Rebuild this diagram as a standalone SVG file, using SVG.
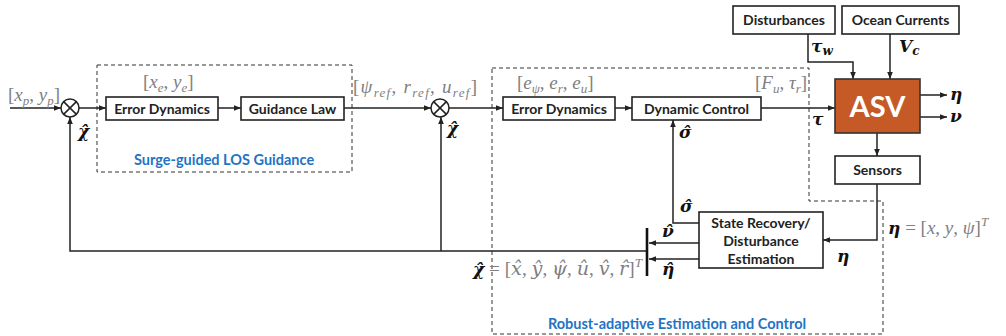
<svg xmlns="http://www.w3.org/2000/svg" width="1006" height="336" viewBox="0 0 1006 336">
<defs>
<marker id="ah" viewBox="0 0 10 10" refX="10" refY="5" markerWidth="7" markerHeight="7" markerUnits="userSpaceOnUse" orient="auto">
<path d="M0,1 L10,5 L0,9 Z" fill="#222"/>
</marker>
<style>
.box{fill:#fff;stroke:#222;stroke-width:1.6}
.lbl{font-family:Lato,"Liberation Sans",sans-serif;font-weight:bold;font-size:14px;fill:#222;text-anchor:middle}
.ln{fill:none;stroke:#222;stroke-width:1.5}
.dash{fill:none;stroke:#333;stroke-width:1;stroke-dasharray:4,3}
.blue{font-family:Lato,"Liberation Sans",sans-serif;font-weight:bold;font-size:14.5px;fill:#1f74c4;text-anchor:middle}
.m{font-family:"Liberation Serif",serif;font-size:19px;fill:#808080}
.i{font-style:italic}
.s{font-size:13px;font-style:italic}
.b{font-family:"DejaVu Serif",serif;font-weight:bold;font-style:italic;font-size:17px;fill:#111}
.h{font-family:"DejaVu Serif",serif;font-style:italic}
</style>
</defs>

<g id="regions">
<rect class="dash" x="97" y="65" width="255" height="107"/>
<path class="dash" d="M492,68 H809 V201 H883 V334 H492 Z"/>
<text class="blue" x="224" y="165">Surge-guided LOS Guidance</text>
<text class="blue" x="677" y="329">Robust-adaptive Estimation and Control</text>
</g>

<g id="connectors">
<line class="ln" x1="10" y1="108" x2="61" y2="108" marker-end="url(#ah)"/>
<line class="ln" x1="79" y1="108" x2="106" y2="108" marker-end="url(#ah)"/>
<line class="ln" x1="218" y1="108" x2="241" y2="108" marker-end="url(#ah)"/>
<line class="ln" x1="344" y1="108" x2="431" y2="108" marker-end="url(#ah)"/>
<line class="ln" x1="449" y1="108" x2="503" y2="108" marker-end="url(#ah)"/>
<line class="ln" x1="615" y1="108" x2="632" y2="108" marker-end="url(#ah)"/>
<line class="ln" x1="761" y1="108" x2="835" y2="108" marker-end="url(#ah)"/>
<polyline class="ln" points="647,251 70,251 70,117" marker-end="url(#ah)"/>
<line class="ln" x1="441" y1="251" x2="441" y2="117" marker-end="url(#ah)"/>
<polyline class="ln" points="699,223 673,223 673,120" marker-end="url(#ah)"/>
<line class="ln" x1="920" y1="95" x2="947" y2="95" marker-end="url(#ah)"/>
<line class="ln" x1="920" y1="117" x2="947" y2="117" marker-end="url(#ah)"/>
<line class="ln" x1="877" y1="133" x2="877" y2="156" marker-end="url(#ah)"/>
<polyline class="ln" points="877,184 877,240 823,240" marker-end="url(#ah)"/>
<polyline class="ln" points="808,34 808,62 853,62 853,79" marker-end="url(#ah)"/>
<line class="ln" x1="890" y1="34" x2="890" y2="79" marker-end="url(#ah)"/>
<line class="ln" x1="699" y1="243" x2="649" y2="243" marker-end="url(#ah)"/>
<line class="ln" x1="699" y1="259" x2="649" y2="259" marker-end="url(#ah)"/>
<line x1="647" y1="228" x2="647" y2="276" stroke="#111" stroke-width="2.6"/>
</g>

<g id="sum1">
<circle cx="70" cy="108" r="9" fill="#fff" stroke="#222" stroke-width="1.5"/>
<path d="M63.6,101.6 L76.4,114.4 M76.4,101.6 L63.6,114.4" stroke="#222" stroke-width="1.5"/>
</g>
<g id="sum2">
<circle cx="440" cy="108" r="9" fill="#fff" stroke="#222" stroke-width="1.5"/>
<path d="M433.6,101.6 L446.4,114.4 M446.4,101.6 L433.6,114.4" stroke="#222" stroke-width="1.5"/>
</g>

<g id="err1"><rect class="box" x="106" y="97" width="112" height="23"/><text class="lbl" x="162" y="113.5">Error Dynamics</text></g>
<g id="guid"><rect class="box" x="241" y="97" width="103" height="23"/><text class="lbl" x="292.5" y="113.5">Guidance Law</text></g>
<g id="err2"><rect class="box" x="503" y="97" width="112" height="23"/><text class="lbl" x="559" y="113.5">Error Dynamics</text></g>
<g id="dyn"><rect class="box" x="632" y="97" width="129" height="23"/><text class="lbl" x="696.5" y="113.5">Dynamic Control</text></g>
<g id="dist"><rect class="box" x="733" y="6" width="102" height="28"/><text class="lbl" x="784" y="25">Disturbances</text></g>
<g id="ocean"><rect class="box" x="842" y="6" width="117" height="28"/><text class="lbl" x="900.5" y="25">Ocean Currents</text></g>
<g id="asv"><rect x="835" y="79" width="85" height="54" fill="#c55a27" stroke="#333" stroke-width="1.6"/><text x="877.5" y="117" font-family="Lato,'Liberation Sans',sans-serif" font-weight="bold" font-size="29" fill="#fff" text-anchor="middle">ASV</text></g>
<g id="sensors"><rect class="box" x="835" y="156" width="85" height="28"/><text class="lbl" x="877.5" y="175">Sensors</text></g>
<g id="est"><rect class="box" x="699" y="212" width="124" height="56"/>
<text class="lbl" x="761" y="228">State Recovery/</text>
<text class="lbl" x="761" y="246">Disturbance</text>
<text class="lbl" x="761" y="264">Estimation</text></g>

<g id="labels">
<text class="m" x="8" y="101">[<tspan class="i">x</tspan><tspan class="s" dy="4">p</tspan><tspan dy="-4">, </tspan><tspan class="i">y</tspan><tspan class="s" dy="4">p</tspan><tspan dy="-4">]</tspan></text>
<text class="m" x="143" y="88">[<tspan class="i">x</tspan><tspan class="s" dy="4">e</tspan><tspan dy="-4">, </tspan><tspan class="i">y</tspan><tspan class="s" dy="4">e</tspan><tspan dy="-4">]</tspan></text>
<text class="m" x="353" y="93" textLength="124" lengthAdjust="spacing">[<tspan class="i">ψ</tspan><tspan class="s" dy="4">ref</tspan><tspan dy="-4">, </tspan><tspan class="i">r</tspan><tspan class="s" dy="4">ref</tspan><tspan dy="-4">, </tspan><tspan class="i">u</tspan><tspan class="s" dy="4">ref</tspan><tspan dy="-4">]</tspan></text>
<text class="m" x="517" y="89">[<tspan class="i">e</tspan><tspan class="s" dy="4">ψ</tspan><tspan dy="-4">, </tspan><tspan class="i">e</tspan><tspan class="s" dy="4">r</tspan><tspan dy="-4">, </tspan><tspan class="i">e</tspan><tspan class="s" dy="4">u</tspan><tspan dy="-4">]</tspan></text>
<text class="m" x="755" y="89">[<tspan class="i">F</tspan><tspan class="s" dy="4">u</tspan><tspan dy="-4">, </tspan><tspan class="i">τ</tspan><tspan class="s" dy="4">r</tspan><tspan dy="-4">]</tspan></text>
<text class="b" x="78" y="137">χ̂</text>
<text class="b" x="447" y="134">χ̂</text>
<text class="b" x="679" y="138">σ̂</text>
<text class="b" x="680" y="212">σ̂</text>
<text class="b" x="812" y="125">τ</text>
<text class="b" x="811" y="52">τ<tspan font-size="12" dy="3">w</tspan></text>
<text class="b" x="899" y="52">V<tspan font-size="12" dy="3">c</tspan></text>
<text class="b" x="950" y="100">η</text>
<text class="b" x="950" y="122">ν</text>
<text class="b" x="662" y="237">ν̂</text>
<text class="b" x="662" y="275">η̂</text>
<text class="b" x="837" y="262">η</text>
<text class="m" x="888" y="234"><tspan class="b" font-size="18">η</tspan> = [<tspan class="i">x</tspan>, <tspan class="i">y</tspan>, <tspan class="i">ψ</tspan>]<tspan font-size="13" class="i" dy="-8">T</tspan></text>
<text class="m" x="473" y="275" font-size="18" textLength="169" lengthAdjust="spacingAndGlyphs"><tspan class="b" font-size="18">χ̂</tspan> = [<tspan class="h">x̂</tspan>, <tspan class="h">ŷ</tspan>, <tspan class="h">ψ̂</tspan>, <tspan class="h">û</tspan>, <tspan class="h">v̂</tspan>, <tspan class="h">r̂</tspan>]<tspan font-size="13" class="i" dy="-8">T</tspan></text>
</g>
</svg>
